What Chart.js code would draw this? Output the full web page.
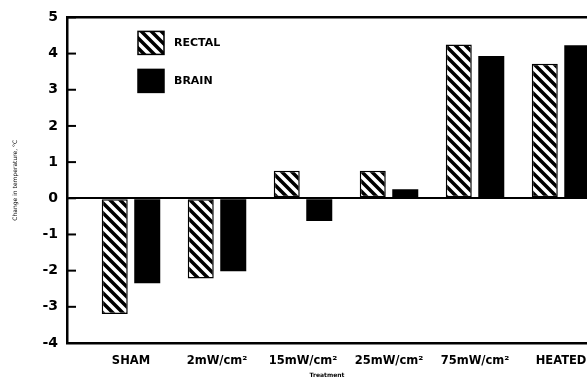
<!DOCTYPE html>
<html>
<head>
<meta charset="utf-8">
<script src="https://cdn.jsdelivr.net/npm/chart.js@4.4.1/dist/chart.umd.min.js"></script>
<style>
  html, body { margin: 0; padding: 0; background: #fff; overflow: hidden; }
  #wrap { width: 587px; height: 383px; }
</style>
</head>
<body>
<div id="wrap"><canvas id="tempChart" width="587" height="383"></canvas></div>
<script>
let treatments = ["SHAM", "2mW/cm²", "15mW/cm²", "25mW/cm²", "75mW/cm²", "HEATED"];
let rectal = [-3.2, -2.22, 0.76, 0.76, 4.25, 3.72];   // change, °C
let brain  = [-2.35, -2.02, -0.63, 0.25, 3.93, 4.23];
let yTicks = [-4, -3, -2, -1, 0, 1, 2, 3, 4, 5];

const FONT = "'DejaVu Sans', sans-serif";

// diagonal stripes for the rectal bars
function stripes() {
    let c = document.createElement('canvas');
    c.width = c.height = 10;
    let g = c.getContext('2d');
    g.fillStyle = '#fff';
    g.fillRect(0, 0, 10, 10);
    g.strokeStyle = '#000';
    g.lineWidth = 3.5;
    g.beginPath();
    g.moveTo(-3, -3); g.lineTo(13, 13);
    g.moveTo(-3, 7);  g.lineTo(3, 13);
    g.moveTo(7, -3);  g.lineTo(13, 3);
    g.stroke();
    return g.createPattern(c, 'repeat');
}
let hatch = stripes();

// short tick marks pointing into the plot + the boxed legend
const extras = {
    id: 'extras',
    afterDraw(chart) {
        let ctx = chart.ctx, a = chart.chartArea, y = chart.scales.y;
        ctx.save();
        ctx.strokeStyle = '#000';
        ctx.lineWidth = 2;
        yTicks.forEach(v => {
            let py = y.getPixelForValue(v);
            ctx.beginPath();
            ctx.moveTo(a.left, py);
            ctx.lineTo(a.left + 9, py);
            ctx.stroke();
        });

        let items = [
            { text: 'RECTAL', fill: hatch, top: a.top + 14 },
            { text: 'BRAIN', fill: '#000', top: a.top + 52 }
        ];
        ctx.font = 'bold 11px ' + FONT;
        ctx.textBaseline = 'middle';
        items.forEach(it => {
            ctx.fillStyle = it.fill;
            ctx.fillRect(a.left + 71, it.top, 26, 23);
            ctx.lineWidth = 1.5;
            ctx.strokeRect(a.left + 71, it.top, 26, 23);
            ctx.fillStyle = '#000';
            ctx.fillText(it.text, a.left + 107, it.top + 12);
        });
        ctx.restore();
    }
};

new Chart(document.getElementById('tempChart'), {
    type: 'bar',
    data: {
        datasets: [
            {
                label: 'RECTAL',
                data: rectal.map((v, i) => ({ x: i, y: v })),
                backgroundColor: hatch,
                borderColor: '#000',
                borderWidth: 1.5,
                borderSkipped: false,
                categoryPercentage: 0.756,
                barPercentage: 0.8
            },
            {
                label: 'BRAIN',
                data: brain.map((v, i) => ({ x: i, y: v })),
                backgroundColor: '#000',
                borderColor: '#000',
                borderWidth: 0,
                categoryPercentage: 0.756,
                barPercentage: 0.8
            }
        ]
    },
    options: {
        responsive: false,
        animation: false,
        layout: { padding: 0 },
        plugins: {
            legend: { display: false },
            tooltip: { enabled: false }
        },
        scales: {
            x: {
                type: 'linear',
                offset: false,
                min: -0.744,
                max: 5.302,
                afterBuildTicks: s => { s.ticks = treatments.map((t, i) => ({ value: i })); },
                afterFit: s => { s.height = 40; s.paddingRight = 0; s.paddingLeft = 0; },
                grid: { display: false, offset: false },
                border: { display: true, color: '#000', width: 2.5 },
                ticks: {
                    color: '#000',
                    padding: 3,
                    maxRotation: 0,
                    autoSkip: false,
                    font: { family: FONT, weight: 'bold', size: 11.5 },
                    callback: v => treatments[v]
                },
                title: {
                    display: true,
                    text: 'Treatment',
                    color: '#000',
                    font: { family: FONT, weight: 'bold', size: 6 },
                    padding: { top: 0, bottom: 4 }
                }
            },
            xTop: {
                type: 'linear',
                position: 'top',
                min: 0,
                max: 1,
                afterFit: s => { s.height = 13; s.paddingRight = 0; s.paddingLeft = 0; },
                grid: { display: false },
                border: { display: true, color: '#000', width: 2.5 },
                ticks: { display: false }
            },
            y: {
                min: -4,
                max: 5,
                afterBuildTicks: s => { s.ticks = yTicks.map(v => ({ value: v })); },
                afterFit: s => { s.width = 67; },
                border: { display: true, color: '#000', width: 2.5 },
                grid: {
                    drawTicks: false,
                    color: c => c.tick && c.tick.value === 0 ? '#000' : 'rgba(0,0,0,0)',
                    lineWidth: 2
                },
                ticks: {
                    color: '#000',
                    padding: 9,
                    font: { family: FONT, weight: 'bold', size: 14 }
                },
                title: {
                    display: true,
                    text: 'Change in temperature, °C',
                    color: '#000',
                    font: { family: FONT, size: 6 },
                    padding: { top: 12, bottom: 0 }
                }
            }
        }
    },
    plugins: [extras]
});
</script>
</body>
</html>
